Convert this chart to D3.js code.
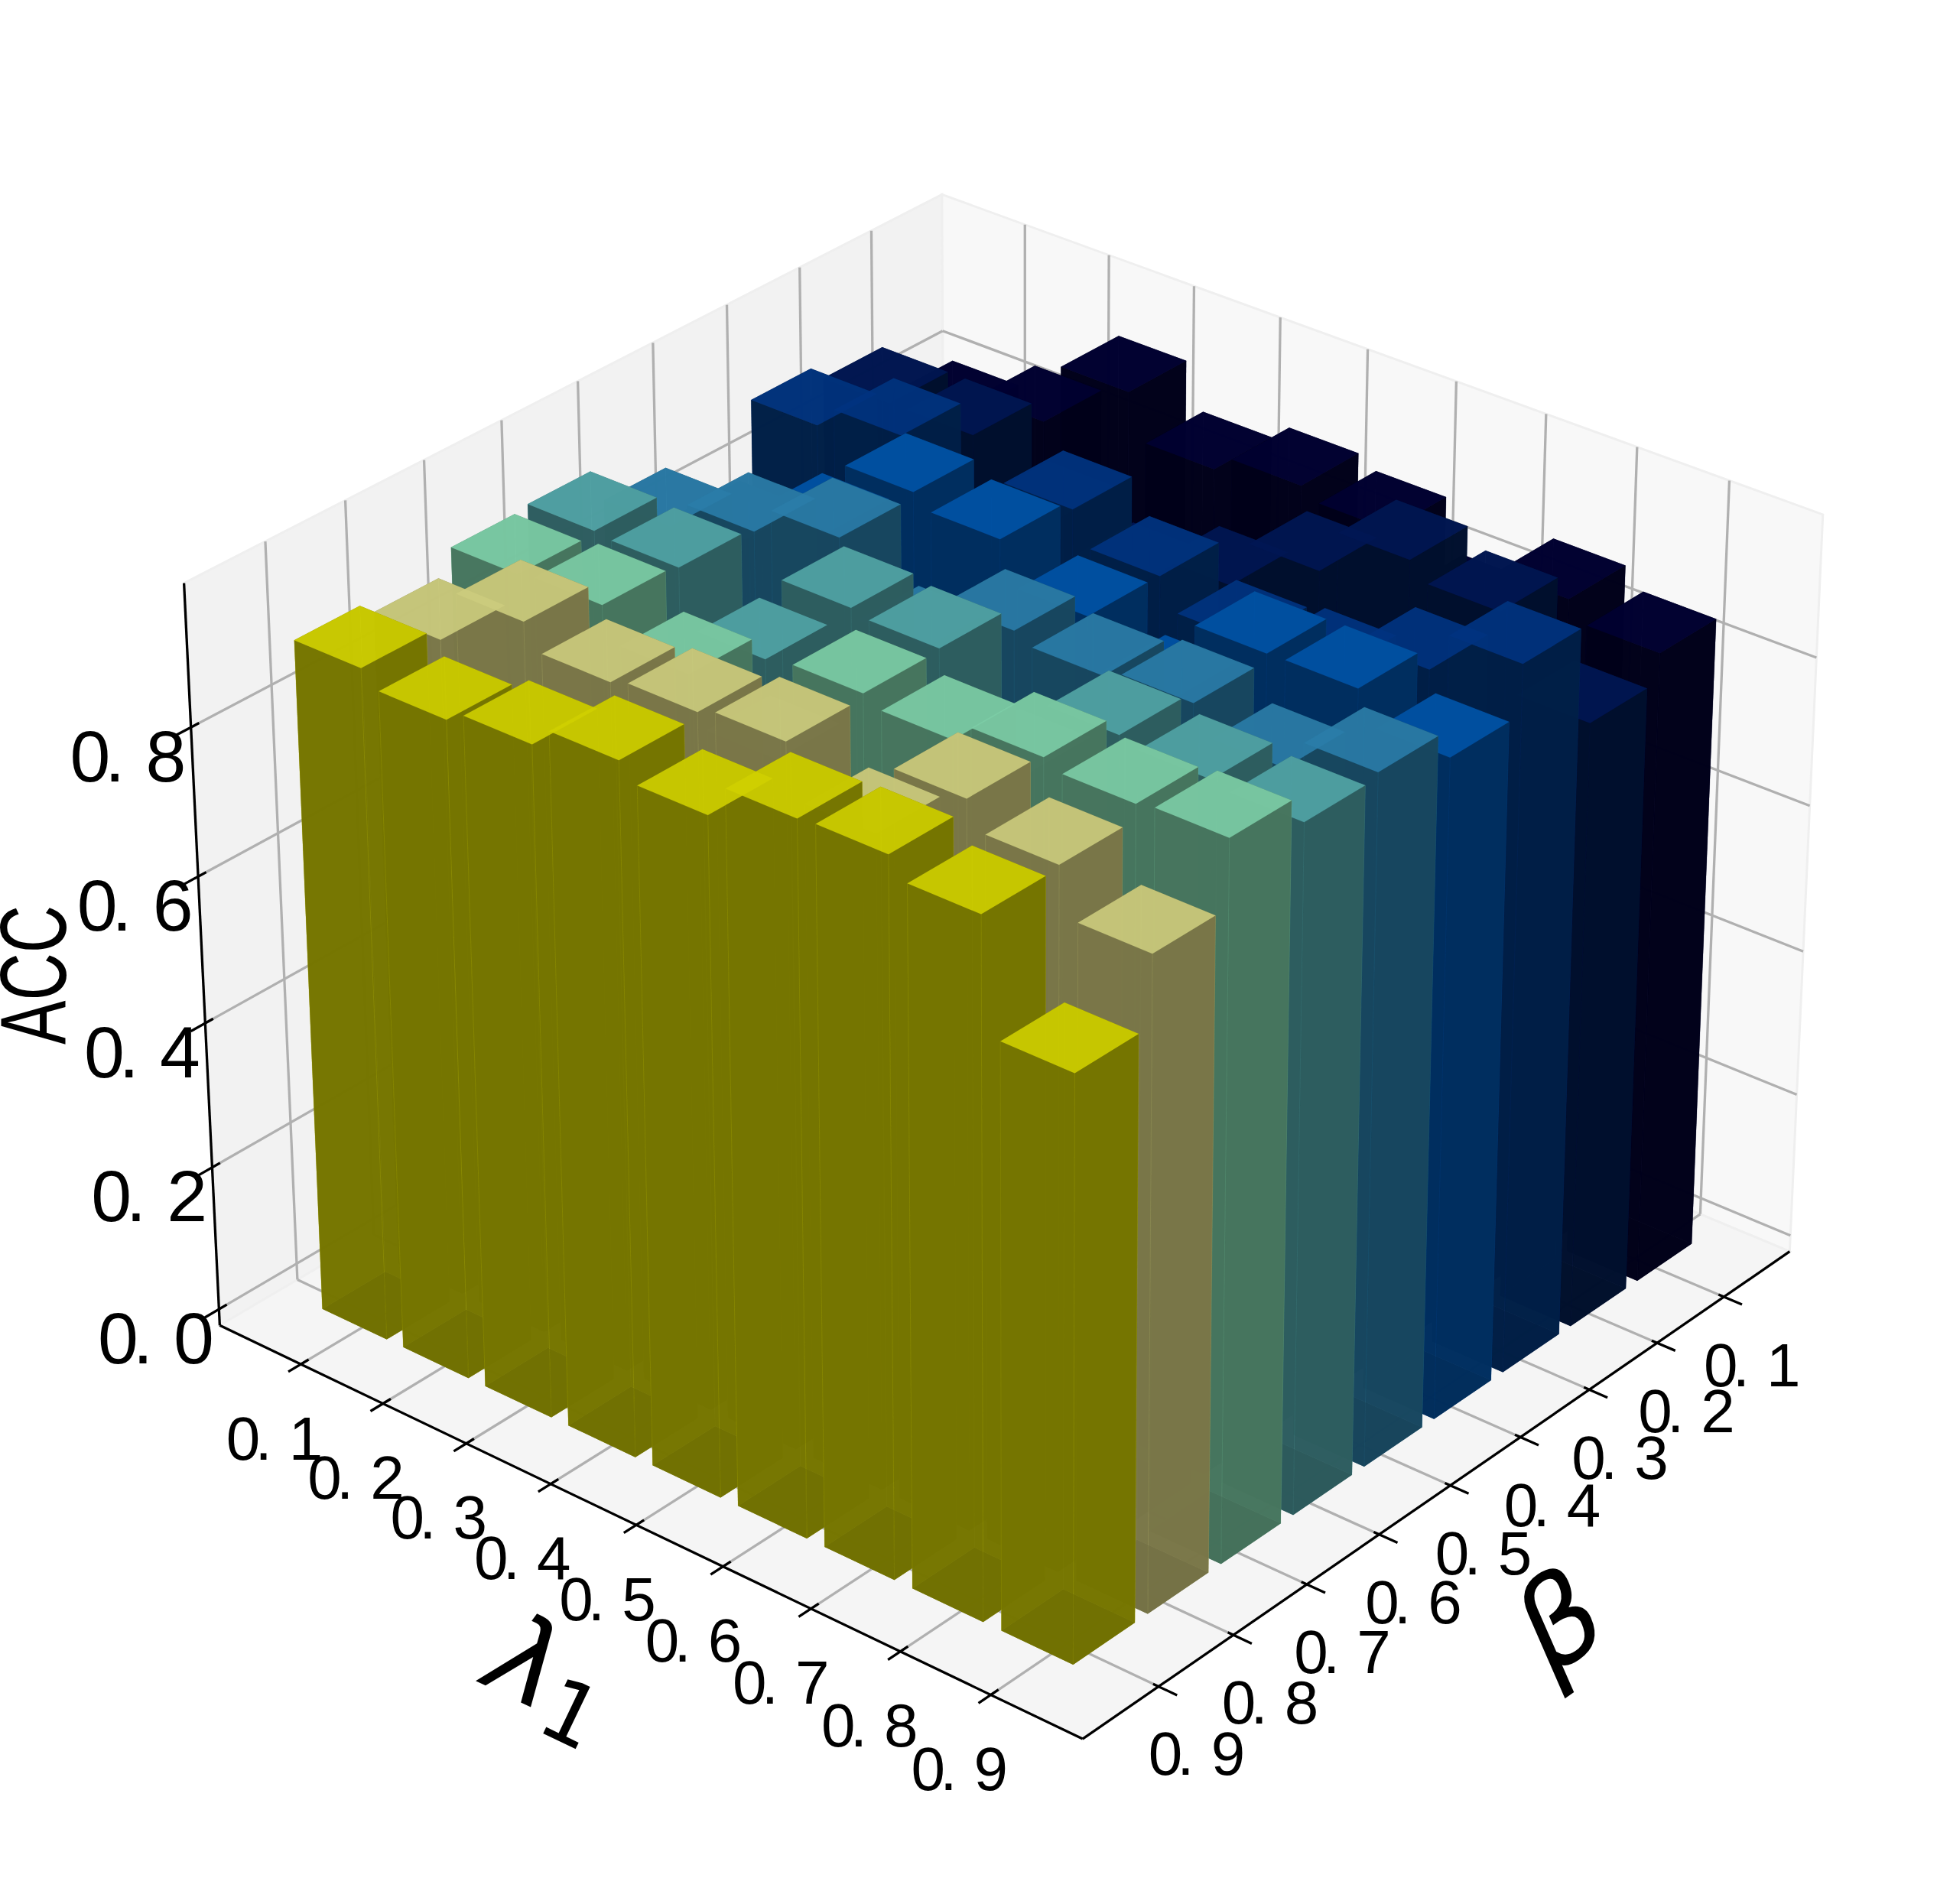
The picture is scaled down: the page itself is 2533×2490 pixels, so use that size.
<!DOCTYPE html>
<html><head><meta charset="utf-8"><script src="https://d3js.org/d3.v7.min.js"></script></head>
<body style="margin:0;background:#fff"><svg id="chart" width="2533" height="2490" style="display:block"></svg>
<script>
// tick labels
const lambdaTicks=[0.1,0.2,0.3,0.4,0.5,0.6,0.7,0.8,0.9];
const betaTicks=[0.1,0.2,0.3,0.4,0.5,0.6,0.7,0.8,0.9];
const accTicks=[0.0,0.2,0.4,0.6,0.8];

// ACC per beta row, one value per lambda
const accBeta01=[0.805,0.841,0.925,0.864,0.886,0.871,0.802,0.869,0.843];
const accBeta02=[0.875,0.875,0.805,0.765,0.805,0.870,0.930,0.907,0.806];
const accBeta03=[0.897,0.927,0.815,0.916,0.872,0.831,0.839,0.886,0.940];
const accBeta04=[0.795,0.850,0.948,0.930,0.873,0.812,0.916,0.917,0.874];
const accBeta05=[0.866,0.904,0.941,0.841,0.909,0.896,0.907,0.870,0.912];
const accBeta06=[0.914,0.910,0.834,0.948,0.941,0.825,0.922,0.912,0.905];
const accBeta07=[0.910,0.915,0.870,0.805,0.938,0.925,0.950,0.938,0.943];
const accBeta08=[0.878,0.948,0.915,0.923,0.932,0.861,0.954,0.918,0.854];
const accBeta09=[0.896,0.875,0.890,0.917,0.894,0.938,0.941,0.914,0.762];
const accRows=[accBeta01,accBeta02,accBeta03,accBeta04,accBeta05,accBeta06,accBeta07,accBeta08,accBeta09];

// top face and side face colour of each beta row
const topColors=["#000032","#001653","#00337f","#0053a6","#2a7ca8","#51a4a6","#7ccda6","#cccc7d","#cfcf00"];
const sideColors=["#00001a","#000f2e","#001f47","#002f5f","#17475f","#2d5d5f","#47755e","#7a7748","#757500"];
const bottomColors=["#000010","#000818","#001028","#001830","#0c2430","#183030","#243c30","#3c3c24","#3c3c00"];

const width=2533,height=2490;
const svg=d3.select("#chart");

// pixel position of known points of the axes box: [x,y,z (0..1), px, py]
const frameAnchors=[
 [0,1,0,289,1734],[1,1,0,1416,2273],[1,0,0,2340,1636],[0,1,1,241,762],[1,0,1,2384,674],[0,0,1,1231,254],
 [0,0,0.812,1233,433],[0.5,1,0,829,1995],[1,0.5,0,1898,1943]];

// least squares fit of the perspective camera of the 3d box
function fitCamera(a){
  const M=[],R=[];
  a.forEach(([x,y,w,px,py])=>{
    const u=px/1000,v=py/1000;
    M.push([x,y,w,1,0,0,0,0,-u*x,-u*y,-u*w]);R.push(u);
    M.push([0,0,0,0,x,y,w,1,-v*x,-v*y,-v*w]);R.push(v);
  });
  const n=11;
  const N=d3.range(n).map(i=>d3.range(n+1).map(j=>j<n?d3.sum(M,r=>r[i]*r[j]):d3.sum(M,(r,k)=>r[i]*R[k])));
  for(let i=0;i<n;i++){
    let p=i;
    for(let k=i;k<n;k++) if(Math.abs(N[k][i])>Math.abs(N[p][i])) p=k;
    [N[i],N[p]]=[N[p],N[i]];
    for(let k=0;k<n;k++) if(k!=i){
      const f=N[k][i]/N[i][i];
      for(let j=i;j<=n;j++) N[k][j]-=f*N[i][j];
    }
  }
  return N.map((r,i)=>r[n]/r[i]);
}
const cam=fitCamera(frameAnchors);

// data to box coordinates
const xScale=d3.scaleLinear().domain([0,1]).range([0,1]);
const yScale=d3.scaleLinear().domain([0,1]).range([0,1]);
const zScale=d3.scaleLinear().domain([-0.023,0.99]).range([0,1]);
// bars sit a little off the ticks at the far end of each axis
const barX=d3.scaleLinear().domain([0.1,0.9]).range([0.106,0.9]);
const barY=d3.scaleLinear().domain([0.1,0.9]).range([0.107,0.9]);

function project(x,y,z){
  const d=cam[8]*x+cam[9]*y+cam[10]*z+1;
  return [1000*(cam[0]*x+cam[1]*y+cam[2]*z+cam[3])/d,1000*(cam[4]*x+cam[5]*y+cam[6]*z+cam[7])/d,d];
}
const line=d3.line();
const closed=pts=>line(pts.map(p=>project(...p)).map(p=>[p[0],p[1]]))+"Z";
const seg=(a,b)=>line([project(...a),project(...b)].map(p=>[p[0],p[1]]));

// panes
const panes=[
 {pts:[[0,1,0],[0,0,0],[0,0,1],[0,1,1]],fill:"#f2f2f2"},
 {pts:[[0,0,0],[1,0,0],[1,0,1],[0,0,1]],fill:"#f8f8f8"},
 {pts:[[0,0,0],[1,0,0],[1,1,0],[0,1,0]],fill:"#f5f5f5"}];
svg.append("g").selectAll("path").data(panes).join("path")
  .attr("d",d=>closed(d.pts)).attr("fill",d=>d.fill).attr("stroke","#efefef").attr("stroke-width",3);

// grid
const gridLines=[];
lambdaTicks.forEach(t=>{const x=xScale(t);
  gridLines.push([[x,1,0],[x,0,0]],[[x,0,0],[x,0,1]]);});
betaTicks.forEach(t=>{const y=yScale(t);
  gridLines.push([[1,y,0],[0,y,0]],[[0,y,0],[0,y,1]]);});
accTicks.forEach(t=>{const z=zScale(t);
  gridLines.push([[0,1,z],[0,0,z]],[[0,0,z],[1,0,z]]);});
svg.append("g").selectAll("path").data(gridLines).join("path")
  .attr("d",d=>seg(d[0],d[1])).attr("fill","none").attr("stroke","#b0b0b0").attr("stroke-width",3.3);

// axis lines and tick marks
const axisLines=[[[0,1,0],[1,1,0]],[[1,1,0],[1,0,0]],[[0,1,0],[0,1,1]]];
lambdaTicks.forEach(t=>axisLines.push([[xScale(t),0.99,0],[xScale(t),1.016,0]]));
betaTicks.forEach(t=>axisLines.push([[0.994,yScale(t),0],[1.02,yScale(t),0]]));
accTicks.forEach(t=>axisLines.push([[0,0.99,zScale(t)],[0,1.018,zScale(t)]]));
svg.append("g").selectAll("path").data(axisLines).join("path")
  .attr("d",d=>seg(d[0],d[1])).attr("fill","none").attr("stroke","#000").attr("stroke-width",3.3);

// tick labels: the digits sit in fixed cells, like a half width font
function addTickLabel(t,cx,cy,pitch,size){
  const x0=cx-pitch*0.73;
  svg.append("text")
    .attr("x",[x0,x0+pitch*0.46,x0+pitch].join(" "))
    .attr("y",cy+size*0.345)
    .attr("font-family","Liberation Sans").attr("font-size",size).attr("fill","#000")
    .text(t.toFixed(1));
}
lambdaTicks.forEach(t=>{const p=project(xScale(t),1,0);addTickLabel(t,p[0]-37-8*t,p[1]+97,82,80);});
betaTicks.forEach(t=>{const p=project(1,yScale(t),0);addTickLabel(t,p[0]+32+16*t,p[1]+90-2*t,82,80);});
accTicks.forEach(t=>{const p=project(0,1,zScale(t));addTickLabel(t,p[0]-86,p[1]+38,99,95);});

// axis titles
svg.append("text").attr("transform","translate(86,1366) rotate(-90)")
  .attr("font-family","Liberation Sans").attr("font-size",122)
  .attr("textLength",182).attr("lengthAdjust","spacingAndGlyphs").text("ACC");
const lamTitle=svg.append("text").attr("transform","translate(628,2201) rotate(25.6)")
  .attr("font-family","DejaVu Sans").attr("font-size",150);
lamTitle.append("tspan").attr("font-style","italic").text("λ");
lamTitle.append("tspan").attr("font-size",112).attr("dy",24).text("1");
svg.append("text").attr("transform","translate(2028,2194) rotate(-34.6)")
  .attr("font-family","DejaVu Sans").attr("font-style","italic").attr("font-size",158).text("β");

// bars: one collection per beta row, rows far to near, faces of a row sorted by mean depth
const barBase=-0.022;
const barLeft=0.054,barRight=0.025,barBack=0.060,barFront=0.022;
const rows=accRows.map((row,j)=>{
  const faces=[];
  row.forEach((v,i)=>{
    const x0=barX(lambdaTicks[i])-barLeft,x1=barX(lambdaTicks[i])+barRight;
    const y0=barY(betaTicks[j])-barBack,y1=barY(betaTicks[j])+barFront;
    const z0=zScale(barBase),z1=zScale(v);
    const add=(pts,fill,edge)=>faces.push({pts,fill,edge,depth:d3.mean(pts,p=>project(...p)[2])});
    add([[x0,y0,z0],[x1,y0,z0],[x1,y1,z0],[x0,y1,z0]],bottomColors[j],"none");
    add([[x0,y0,z1],[x1,y0,z1],[x1,y1,z1],[x0,y1,z1]],topColors[j],"none");
    add([[x0,y0,z0],[x1,y0,z0],[x1,y0,z1],[x0,y0,z1]],sideColors[j],topColors[j]);
    add([[x0,y1,z0],[x1,y1,z0],[x1,y1,z1],[x0,y1,z1]],sideColors[j],topColors[j]);
    add([[x0,y0,z0],[x0,y1,z0],[x0,y1,z1],[x0,y0,z1]],sideColors[j],topColors[j]);
    add([[x1,y0,z0],[x1,y1,z0],[x1,y1,z1],[x1,y0,z1]],sideColors[j],topColors[j]);
  });
  faces.sort((a,b)=>b.depth-a.depth);
  return {faces};
});
svg.append("g").selectAll("g").data(rows).join("g")
  .selectAll("path").data(d=>d.faces).join("path")
  .attr("d",d=>closed(d.pts)).attr("fill",d=>d.fill).attr("fill-opacity",0.9)
  .attr("stroke",d=>d.edge).attr("stroke-opacity",0.12).attr("stroke-width",1);
</script></body></html>
